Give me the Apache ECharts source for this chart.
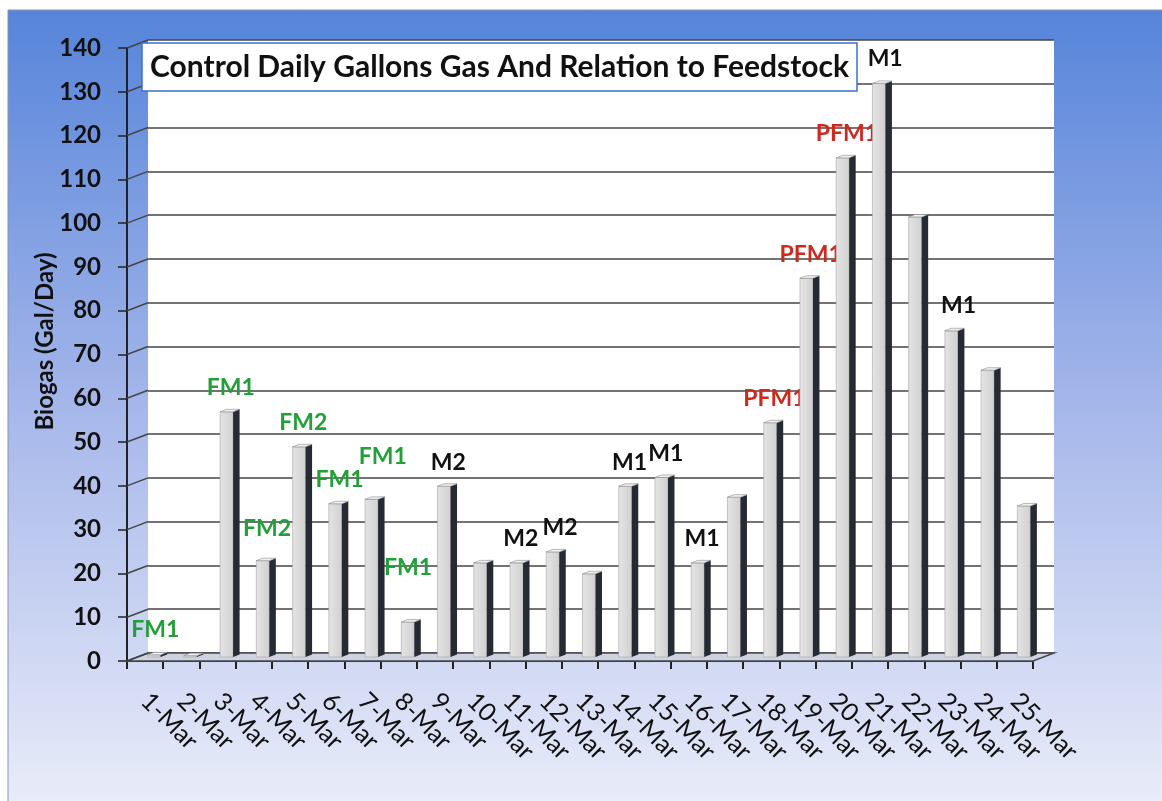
<!DOCTYPE html>
<html>
<head>
<meta charset="utf-8">
<script src="https://cdn.jsdelivr.net/npm/echarts@6/dist/echarts.min.js"></script>
<style>
  html, body { margin: 0; padding: 0; background: #fff; }
  #chart { width: 1162px; height: 801px; }
</style>
</head>
<body>
<div id="chart"></div>
<script>
// data
const days = ['1-Mar', '2-Mar', '3-Mar', '4-Mar', '5-Mar', '6-Mar', '7-Mar', '8-Mar', '9-Mar', '10-Mar',
  '11-Mar', '12-Mar', '13-Mar', '14-Mar', '15-Mar', '16-Mar', '17-Mar', '18-Mar', '19-Mar', '20-Mar',
  '21-Mar', '22-Mar', '23-Mar', '24-Mar', '25-Mar'];
const biogas = [0.5, 0.3, 56, 22, 48, 35, 36, 8, 39, 21.5, 21.5, 24, 19, 39, 41, 21.5, 36.5, 53.5,
  86.5, 114, 131, 100.5, 74.5, 65.5, 34.5];
const feedLabels = ['FM1', '', 'FM1', 'FM2', 'FM2', 'FM1', 'FM1', 'FM1', 'M2', '', 'M2', 'M2', '',
  'M1', 'M1', 'M1', '', 'PFM1', 'PFM1', 'PFM1', 'M1', '', 'M1', '', ''];
const yTicks = [0, 10, 20, 30, 40, 50, 60, 70, 80, 90, 100, 110, 120, 130, 140];

// label nudges where the original labels were dragged away from the bar
const labelNudge = {0: [-2, -25], 3: [1, -32], 6: [8, -43], 7: [-3, -54], 11: [4, -24], 20: [3, -25], 22: [4, -25]};

// 3d look: wall is pushed back by DX/DY, bars sit half way
const DX = 21, DY = 8;
const FRONT = {left: 127, right: 129, top: 48, bottom: 140};

const labelColor = (t) => {
  if (t.indexOf('PFM') === 0) return '#cc2a1c';
  if (t.indexOf('FM') === 0) return '#22a038';
  return '#111';
};

const chart = echarts.init(document.getElementById('chart'));

const renderBar = (params, api) => {
  const i = api.value(0);
  const base = api.coord([i, 0]);
  const top = api.coord([i, api.value(1)]);
  const x1 = base[0] - 8 + DX / 2;
  const w = 13, sw = 6.5, sh = 2.5;
  const yb = base[1] - DY / 2;
  const yt = Math.min(top[1] - DY / 2, yb - 1);
  const children = [
    {
      type: 'rect',
      shape: {x: x1, y: yt, width: w, height: yb - yt},
      style: {
        fill: new echarts.graphic.LinearGradient(0, 0, 1, 0, [
          {offset: 0, color: '#e4e4e4'}, {offset: 1, color: '#d0d0d0'}
        ]),
        stroke: '#a5a5a5', lineWidth: 0.6
      }
    },
    {
      type: 'polygon',
      shape: {points: [[x1 + w, yt], [x1 + w + sw, yt - sh], [x1 + w + sw, yb - sh], [x1 + w, yb]]},
      style: {fill: '#262a33'}
    },
    {
      type: 'polygon',
      shape: {points: [[x1, yt], [x1 + w, yt], [x1 + w + sw, yt - sh], [x1 + sw, yt - sh]]},
      style: {fill: '#f2f2f2', stroke: '#8a8a8a', lineWidth: 0.6}
    }
  ];
  const txt = feedLabels[params.dataIndex];
  if (txt) {
    const nudge = labelNudge[params.dataIndex] || [1, -24];
    children.push({
      type: 'text',
      x: x1 + (w + sw) / 2 + nudge[0],
      y: yt + nudge[1],
      style: {
        text: txt, fill: labelColor(txt),
        fontFamily: 'Lato', fontWeight: 'bold', fontSize: 23,
        align: 'center', verticalAlign: 'middle'
      }
    });
  }
  return {type: 'group', children: children};
};

// floor slab and the grid lines on the left side wall
const renderSide = (params, api) => {
  const cs = params.coordSys;
  const L = cs.x, R = cs.x + cs.width;
  const y = api.coord([0, api.value(1)])[1];
  const children = [
    {type: 'line', shape: {x1: L, y1: y, x2: L + DX, y2: y - DY}, style: {stroke: '#454545', lineWidth: 1.5}}
  ];
  if (params.dataIndex === 0) {
    children.unshift({
      type: 'polygon',
      shape: {points: [[L, y], [R, y], [R + DX, y - DY], [L + DX, y - DY]]},
      style: {fill: '#cdd3e3', stroke: '#4a4a4a', lineWidth: 1.5}
    });
  }
  return {type: 'group', children: children};
};

const option = {
  animation: false,
  graphic: [{
    type: 'rect', z: -100, silent: true,
    shape: {x: 8, y: 10, width: 1160, height: 800},
    style: {
      fill: new echarts.graphic.LinearGradient(0, 0, 0, 1, [
        {offset: 0, color: '#5684da'},
        {offset: 0.5, color: '#a6b7ea'},
        {offset: 1, color: '#eaedf9'}
      ]),
      stroke: '#8b93a6', lineWidth: 1
    }
  }],
  title: {
    text: 'Control Daily Gallons Gas And Relation to Feedstock',
    left: 142, top: 43,
    padding: [8, 8],
    backgroundColor: '#fff',
    borderColor: '#3b6fd0', borderWidth: 1.5,
    textStyle: {fontFamily: 'Lato', fontWeight: 'bold', fontSize: 30, color: '#111', lineHeight: 32}
  },
  grid: [
    {
      left: FRONT.left + DX, right: FRONT.right - DX, top: FRONT.top - DY, bottom: FRONT.bottom + DY,
      show: true, backgroundColor: '#fff', borderWidth: 0
    },
    {left: FRONT.left, right: FRONT.right, top: FRONT.top, bottom: FRONT.bottom}
  ],
  xAxis: [
    {gridIndex: 0, type: 'category', data: days, show: false},
    {
      gridIndex: 1, type: 'category', data: days,
      axisLine: {lineStyle: {color: '#222', width: 2}},
      axisTick: {show: true, length: 8, lineStyle: {color: '#222', width: 2}},
      axisLabel: {rotate: -45, margin: 36, color: '#111', fontFamily: 'Lato', fontSize: 25, interval: 0}
    }
  ],
  yAxis: [
    {
      gridIndex: 0, type: 'value', min: 0, max: 140, interval: 10,
      axisLabel: {show: false}, axisLine: {show: false}, axisTick: {show: false},
      splitLine: {lineStyle: {color: '#454545', width: 1.5}}
    },
    {
      gridIndex: 1, type: 'value', min: 0, max: 140, interval: 10,
      name: 'Biogas (Gal/Day)', nameLocation: 'middle', nameGap: 70, nameRotate: 90,
      nameMoveOverlap: false,
      nameTextStyle: {fontFamily: 'Lato', fontWeight: 'bold', fontSize: 24, color: '#111', padding: [0, 0, 0, 26]},
      axisLine: {show: true, lineStyle: {color: '#222', width: 2}},
      axisTick: {show: true, length: 9, lineStyle: {color: '#222', width: 1.5}},
      axisLabel: {margin: 26, color: '#111', fontFamily: 'Lato', fontWeight: 'bold', fontSize: 24},
      splitLine: {show: false}
    }
  ],
  series: [
    {
      type: 'custom', name: 'side', xAxisIndex: 1, yAxisIndex: 1, z: 1, silent: true,
      renderItem: renderSide,
      data: yTicks.map(v => [0, v])
    },
    {
      type: 'custom', name: 'Biogas', xAxisIndex: 1, yAxisIndex: 1, z: 3,
      renderItem: renderBar,
      data: biogas.map((v, i) => [i, v])
    }
  ]
};

chart.setOption(option);
</script>
</body>
</html>
